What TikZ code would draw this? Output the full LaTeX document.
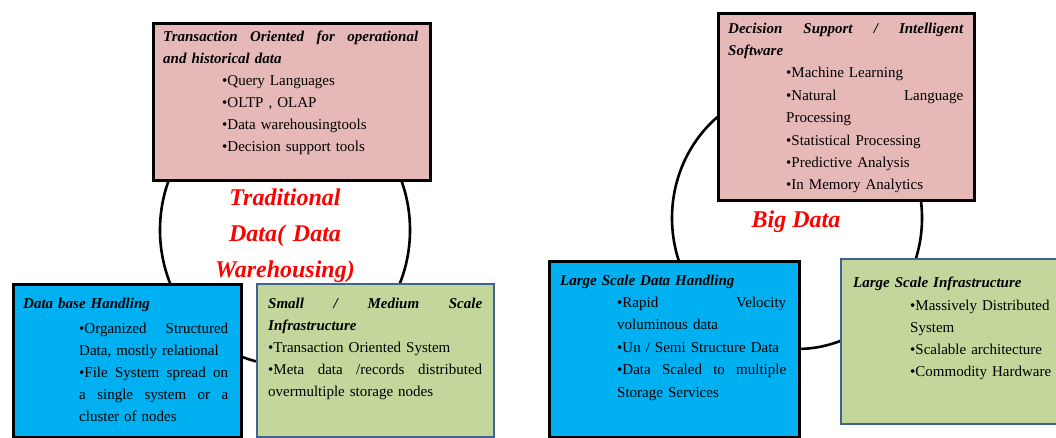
\documentclass[tikz,border=0pt]{standalone}
\usepackage{fontspec}
\setmainfont{Liberation Serif}
\usetikzlibrary{shapes.geometric}

\definecolor{boxpink}{HTML}{E6B9B8}
\definecolor{boxblue}{HTML}{00B0F0}
\definecolor{boxgreen}{HTML}{C3D69B}
\definecolor{greenedge}{HTML}{41648F}
\definecolor{labelred}{HTML}{FF0000}

% helpers for the box texts
\newcommand\ttl[1]{{\bfseries\itshape #1}}
\newcommand\jst[2]{\leavevmode\hbox to #1{#2}}% a line spread over the given width
\newcommand\ind[1]{\hspace*{#1}}

\tikzset{
  cyc/.style={draw=black, line width=2.6pt, ellipse, inner sep=0pt},
  panel/.style={rectangle, inner sep=0pt, anchor=north west},
  pinkpanel/.style={panel, fill=boxpink, draw=black, line width=2.8pt},
  bluepanel/.style={panel, fill=boxblue, draw=black, line width=2.8pt},
  greenpanel/.style={panel, fill=boxgreen, draw=greenedge, line width=2.2pt},
  bodytext/.style={anchor=base west, inner sep=0pt, align=left,
    font=\fontsize{15}{22}\selectfont},
  biglabel/.style={anchor=base, inner sep=0pt, align=center, text=labelred,
    font=\fontsize{24}{36}\selectfont\bfseries\itshape}
}

\begin{document}
\begin{tikzpicture}[x=1pt, y=-1pt]
\useasboundingbox (0,0) rectangle (1056,437);
\clip (0,0) rectangle (1056,437);

% the two cycles behind the boxes
\node[cyc, minimum width=250pt, minimum height=270pt] (cycA) at (285,230) {};
\node[cyc, minimum width=250pt, minimum height=262pt] (cycB) at (797,218) {};

% cycle titles
\node[biglabel, text width=220pt] (tradlbl) at (285,205)
  {Traditional\\Data( Data\\Warehousing)};
\node[biglabel] (biglbl) at (796,227) {Big Data};

% ---------- traditional data ----------
\node[pinkpanel, minimum width=277pt, minimum height=157pt] (tradtop) at (152,22) {};
\node[bodytext, text width=256pt] (tradtoptxt) at (163,41) {%
  \jst{255pt}{\bfseries\itshape Transaction\hfill Oriented\hfill for\hfill operational}\\
  \ttl{and historical data}\\
  \ind{59pt}•Query Languages\\
  \ind{59pt}•OLTP , OLAP\\
  \ind{59pt}•Data warehousingtools\\
  \ind{59pt}•Decision support tools};

\node[bluepanel, minimum width=228pt, minimum height=153pt] (tradleft) at (12,283) {};
\node[bodytext, text width=206pt] (tradlefttxt) at (23,308) {%
  \ttl{Data base Handling}\\[3pt]
  \ind{56pt}\jst{149pt}{•Organized\hfill Structured}\\
  \ind{56pt}Data, mostly relational\\
  \ind{56pt}\jst{149pt}{•File\hfill System\hfill spread\hfill on}\\
  \ind{56pt}\jst{149pt}{a\hfill single\hfill system\hfill or\hfill a}\\
  \ind{56pt}cluster of nodes};

\node[greenpanel, minimum width=237pt, minimum height=153pt] (tradright) at (256,283) {};
\node[bodytext, text width=215pt] (tradrighttxt) at (268,308) {%
  \jst{214pt}{\bfseries\itshape Small\hfill /\hfill Medium\hfill Scale}\\
  \ttl{Infrastructure}\\
  •Transaction Oriented System\\
  \jst{214pt}{•Meta\hfill data\hfill /records\hfill distributed}\\
  overmultiple storage nodes};

% ---------- big data ----------
\node[pinkpanel, minimum width=256pt, minimum height=187pt] (bigtop) at (717,12) {};
\node[bodytext, text width=236pt, font=\fontsize{15}{22.4}\selectfont] (bigtoptxt) at (728,33) {%
  \jst{235pt}{\bfseries\itshape Decision\hfill Support\hfill /\hfill Intelligent}\\
  \ttl{Software}\\
  \ind{58pt}•Machine Learning\\
  \ind{58pt}\jst{177pt}{•Natural\hfill Language}\\
  \ind{58pt}Processing\\
  \ind{58pt}•Statistical Processing\\
  \ind{58pt}•Predictive Analysis\\
  \ind{58pt}•In Memory Analytics};

\node[bluepanel, minimum width=250pt, minimum height=176pt] (bigleft) at (548,260) {};
\node[bodytext, text width=227pt, font=\fontsize{15}{22.4}\selectfont] (biglefttxt) at (560,285) {%
  \ttl{Large Scale Data Handling}\\
  \ind{57pt}\jst{169pt}{•Rapid\hfill Velocity}\\
  \ind{57pt}voluminous data\\
  \ind{57pt}•Un / Semi Structure Data\\
  \ind{57pt}\jst{169pt}{•Data\hfill Scaled\hfill to\hfill multiple}\\
  \ind{57pt}Storage Services};

\node[greenpanel, minimum width=240pt, minimum height=165pt] (bigright) at (840,258) {};
\node[bodytext, text width=260pt] (bigrighttxt) at (853,287) {%
  \ttl{Large Scale Infrastructure}\\[1pt]
  \ind{57pt}•Massively Distributed\\
  \ind{57pt}System\\
  \ind{57pt}•Scalable architecture\\
  \ind{57pt}•Commodity Hardware};
\end{tikzpicture}
\end{document}
